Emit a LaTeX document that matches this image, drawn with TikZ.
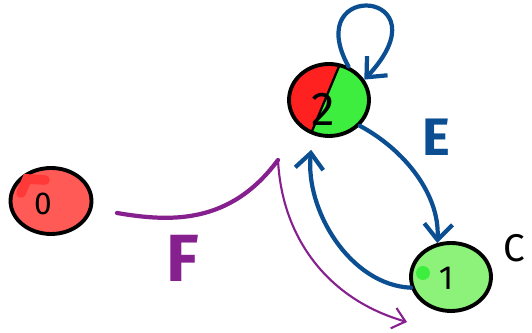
\documentclass[tikz,border=0pt]{standalone}
\usepackage{fontspec}
\setmainfont{Fira Sans}
\usetikzlibrary{arrows.meta,shapes.geometric,positioning,calc}
\definecolor{zerored}{HTML}{FF5A55}
\definecolor{zerospot}{HTML}{FF3838}
\definecolor{halfred}{HTML}{FF2020}
\definecolor{halfgreen}{HTML}{3EEE3E}
\definecolor{onegreen}{HTML}{8CF27A}
\definecolor{edgeblue}{HTML}{0B4F92}
\definecolor{edgepurple}{HTML}{86208F}

\begin{document}
\begin{tikzpicture}[x=0.02cm,y=-0.02cm]
\tikzstyle{every node}+=[inner sep=0pt]
\tikzstyle{state}=[ellipse,draw=black,line width=2.2pt]
\tikzstyle{blueedge}=[draw=edgeblue,line width=2.4pt,line cap=round,-{Straight Barb[length=9pt,width=16pt]}]
\tikzstyle{purpleedge}=[draw=edgepurple,line cap=round]
\useasboundingbox (0,0) rectangle (532,333);
% states
\node [state,fill=zerored,minimum width=1.62cm,minimum height=1.32cm] (s0) at (51,201) {};
\draw [zerospot,line width=5.5pt,line cap=round] (21,193) -- (27,179) -- (45,180);
\draw (43,204) node [font=\fontsize{18}{18}\selectfont] {0};
\node [state,minimum width=1.6cm,minimum height=1.44cm,
  path picture={
    \fill [halfred] (path picture bounding box.north west) -- ($(path picture bounding box.north)+(0.22cm,0)$)
      -- ($(path picture bounding box.south)+(-0.38cm,0)$) -- (path picture bounding box.south west) -- cycle;
    \fill [halfgreen] ($(path picture bounding box.north)+(0.22cm,0)$) -- (path picture bounding box.north east)
      -- (path picture bounding box.south east) -- ($(path picture bounding box.south)+(-0.38cm,0)$) -- cycle;
    \draw [line width=1.3pt] ($(path picture bounding box.north)+(0.22cm,0)$) -- ($(path picture bounding box.south)+(-0.38cm,0)$);
  }] (s2) at (329,100) {};
\draw (323,109) node [font=\fontsize{27}{27}\selectfont] {2};
\node [state,fill=onegreen,minimum width=1.6cm,minimum height=1.36cm] (s1) at (451,277) {};
\fill [halfgreen] (423,273) circle (7);
\draw (446,278) node [font=\fontsize{19}{19}\selectfont] {1};
\draw (514,248) node [font=\fontsize{22}{22}\selectfont] {C};
% blue transitions
\draw [blueedge] (s2.60) .. controls (300,-22) and (448,-10) .. (s2.30);
\draw [blueedge] (s2.-40) .. controls (405,150) and (440,195) .. (s1.112);
\draw (436,137) node [text=edgeblue,font=\fontsize{30}{30}\selectfont\bfseries] {E};
\draw [blueedge,shorten >=0.3cm] (s1.195) .. controls (350,285) and (305,210) .. (s2.245);
% purple transition
\coordinate (fstart) at (117,213);
\coordinate (fcusp) at (278,160);
\coordinate (fend) at (407,322);
\draw [purpleedge,line width=2.4pt] (fstart) .. controls (170,222) and (230,225) .. (fcusp);
\draw [purpleedge,line width=1.2pt,-{Straight Barb[length=7pt,width=12pt]}] (fcusp) .. controls (282,240) and (330,300) .. (fend);
\draw (183,258) node [text=edgepurple,font=\fontsize{38}{38}\selectfont\bfseries] {F};
\end{tikzpicture}
\end{document}
